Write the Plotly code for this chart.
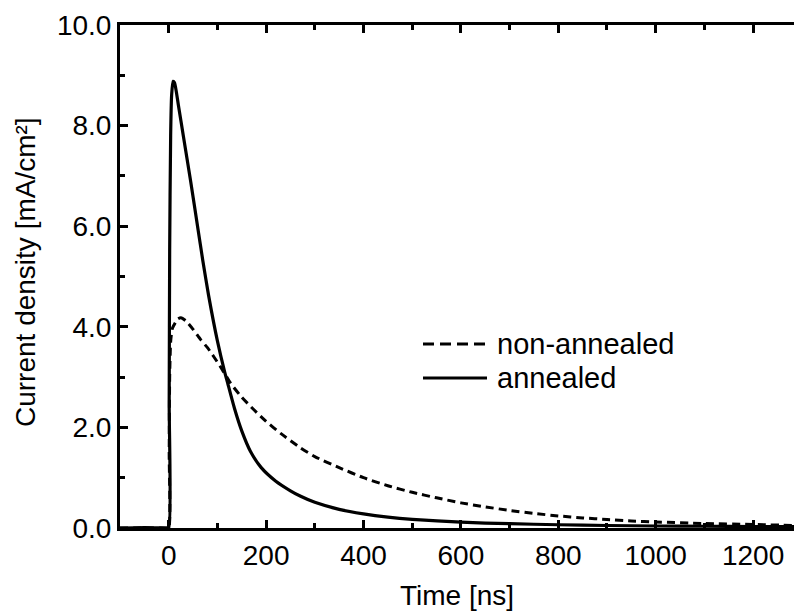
import plotly.graph_objects as go

# Time axis (ns) and current density (mA/cm^2)
t_annealed = [-100, -50, -5, 0, 1, 2, 4, 6, 9, 12, 20, 30, 45, 60, 70, 82, 100, 115, 120,
              135, 150, 168, 190, 220, 250, 271, 300, 350, 400, 450, 500, 600, 700, 800, 900,
              1000, 1100, 1200, 1284]
j_annealed = [0.0, 0.01, 0.0, 0.0, 2.5, 5.5, 7.8, 8.6, 8.88, 8.85, 8.4, 7.8, 6.9, 5.95, 5.32,
              4.62, 3.72, 3.1, 2.92, 2.38, 1.93, 1.52, 1.2, 0.93, 0.74, 0.63, 0.51, 0.37, 0.28,
              0.215, 0.17, 0.115, 0.085, 0.065, 0.05, 0.04, 0.035, 0.03, 0.03]

t_non = [-100, -50, -5, 0, 1, 2, 4, 7, 10, 18, 25, 35, 50, 66, 80, 93, 110, 127, 150, 175,
         200, 230, 271, 300, 350, 400, 450, 500, 550, 600, 650, 700, 750, 800, 850, 900,
         950, 1000, 1100, 1200, 1284]
j_non = [0.0, 0.0, 0.0, 0.0, 1.5, 3.0, 3.7, 3.95, 4.02, 4.15, 4.18, 4.12, 3.95, 3.74, 3.58,
         3.4, 3.15, 2.88, 2.6, 2.35, 2.12, 1.88, 1.59, 1.42, 1.2, 1.0, 0.84, 0.71, 0.6, 0.5,
         0.42, 0.35, 0.29, 0.24, 0.2, 0.17, 0.14, 0.12, 0.09, 0.07, 0.05]

labels = ["non-annealed", "annealed"]
x_ticks = [0, 200, 400, 600, 800, 1000, 1200]
y_ticks = [0, 2, 4, 6, 8, 10]

FONT = "Liberation Sans, Arial, sans-serif"
TICK_SIZE = 28
TITLE_SIZE = 28
LEG_SIZE = 29

fig = go.Figure()
fig.add_trace(go.Scatter(x=t_non, y=j_non, mode="lines", name=labels[0],
                         line=dict(color="black", width=3, dash="8px,5px", shape="spline", smoothing=0.6)))
fig.add_trace(go.Scatter(x=t_annealed, y=j_annealed, mode="lines", name=labels[1],
                         line=dict(color="black", width=3.2, shape="spline", smoothing=0.6)))

L, R, T, B = 120, 0, 25, 87
W, H = 794, 615
pw, ph = W - L - R, H - T - B

def px(x):
    return (x - L) / pw

def py(y):
    return (H - B - y) / ph

# manual legend
fig.add_shape(type="line", xref="paper", yref="paper", x0=px(423), x1=px(487), y0=py(344), y1=py(344),
              line=dict(color="black", width=3, dash="11px,6px"))
fig.add_shape(type="line", xref="paper", yref="paper", x0=px(423), x1=px(487), y0=py(378), y1=py(378),
              line=dict(color="black", width=3.2))
fig.add_annotation(xref="paper", yref="paper", x=px(495), y=py(344), text=labels[0], showarrow=False,
                   xanchor="left", yanchor="middle", font=dict(size=LEG_SIZE, family=FONT, color="black"))
fig.add_annotation(xref="paper", yref="paper", x=px(495), y=py(378), text=labels[1], showarrow=False,
                   xanchor="left", yanchor="middle", font=dict(size=LEG_SIZE, family=FONT, color="black"))

# y-axis title placed as rotated text
fig.add_annotation(xref="paper", yref="paper", x=px(25), y=py(272), text="Current density [mA/cm²]",
                   showarrow=False, textangle=-90, xanchor="center", yanchor="middle",
                   font=dict(size=TITLE_SIZE, family=FONT, color="black"))

fig.update_layout(
    width=W, height=H,
    margin=dict(l=L, r=R, t=T, b=B, pad=0),
    paper_bgcolor="white", plot_bgcolor="white",
    showlegend=False,
    font=dict(family=FONT, size=TICK_SIZE, color="black"),
    xaxis=dict(range=[-100, 1284], tickvals=x_ticks, ticks="inside", ticklen=8, tickwidth=3,
               tickcolor="black", showline=True, linewidth=3, linecolor="black", mirror="ticks",
               showgrid=False, zeroline=False, tickfont=dict(size=TICK_SIZE),
               minor=dict(ticks="inside", ticklen=5, tickwidth=3, tickcolor="black", dtick=100,
                          showgrid=False),
               title=dict(text="Time [ns]", font=dict(size=TITLE_SIZE), standoff=16)),
    yaxis=dict(range=[0, 10], tickvals=y_ticks, tickformat=".1f", ticks="inside", ticklen=8,
               tickwidth=3, tickcolor="black", showline=True, linewidth=3, linecolor="black",
               mirror=False, showgrid=False, zeroline=False, tickfont=dict(size=TICK_SIZE),
               minor=dict(ticks="inside", ticklen=5, tickwidth=3, tickcolor="black", dtick=1,
                          showgrid=False)),
)

fig.write_html("out.html")
